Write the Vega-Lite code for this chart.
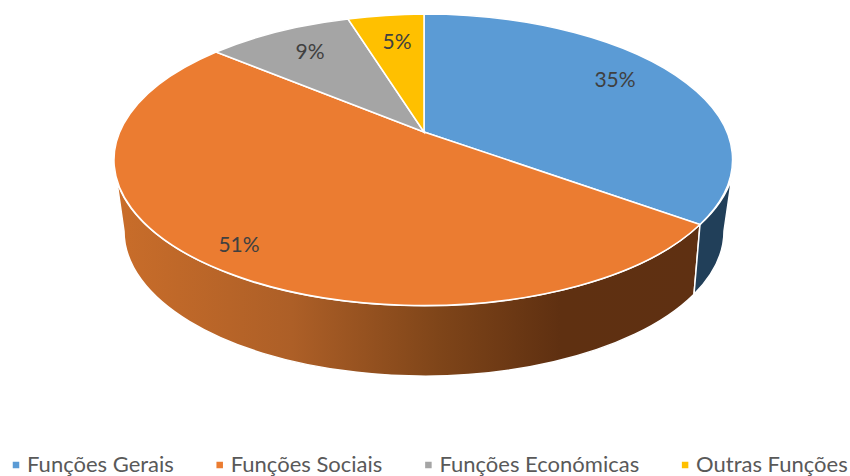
{"$schema":"https://vega.github.io/schema/vega-lite/v6.json","width":850,"height":476,"padding":0,"autosize":{"type":"none"},"background":"white","config":{"view":{"stroke":null}},
"data":{"values":[
{"categoria":"Funções Gerais","valor":0.35,"lx":191,"ly":51},
{"categoria":"Funções Sociais","valor":0.51,"lx":-185,"ly":-114},
{"categoria":"Funções Económicas","valor":0.09,"lx":-114,"ly":79},
{"categoria":"Outras Funções","valor":0.05,"lx":-27,"ly":89}
]},
"layer":[
{"encoding":{"x":{"datum":0,"type":"quantitative","scale":{"domain":[-424,426]},"axis":null},"y":{"datum":0,"type":"quantitative","scale":{"domain":[-344,132]},"axis":null}},
"layer":[
{"transform":[{"filter":"datum.categoria === 'Funções Sociais'"}],
"mark":{"type":"point","filled":true,"opacity":1,"size":4,"stroke":"white","strokeWidth":1.5,
"shape":"M-307.3,48 A309,145.5 0 0 0 276,92.5 L270,162.2 A300,145 0 0 1 -300,99 Z",
"fill":{"x1":0,"y1":0,"x2":1,"y2":0,"gradient":"linear","stops":[{"offset":0,"color":"#c96d2a"},{"offset":0.3,"color":"#ad5f27"},{"offset":0.55,"color":"#7f4519"},{"offset":0.76,"color":"#5f3011"},{"offset":1,"color":"#5f3012"}]}}},
{"transform":[{"filter":"datum.categoria === 'Funções Gerais'"}],
"mark":{"type":"point","filled":true,"opacity":1,"size":4,"stroke":"white","strokeWidth":1.5,"fill":"#213f59",
"shape":"M276,92.5 A309,145.5 0 0 0 307.7,46 L300,99 A300,145 0 0 1 270,162.2 Z"}},
{"transform":[{"filter":"datum.categoria === 'Funções Gerais'"}],
"mark":{"type":"point","filled":true,"opacity":1,"size":4,"stroke":"white","strokeWidth":1.5,"shape":"M0,0 L0,-118 A309,145.5 0 0 1 276,92.5 Z"},
"encoding":{"color":{"field":"categoria","type":"nominal","sort":null,"scale":{"domain":["Funções Gerais","Funções Sociais","Funções Económicas","Outras Funções"],"range":["#5B9BD5","#EB7C31","#A5A5A5","#FFC000"]},
"legend":{"title":null,"orient":"none","legendX":5,"legendY":454,"direction":"horizontal","columns":4,"columnPadding":34.7,"symbolType":"square","symbolSize":64,"symbolOpacity":1,"labelFont":"Lato","labelFontSize":22,"labelColor":"#595959","labelOffset":0,"labelLimit":300}}}},
{"transform":[{"filter":"datum.categoria === 'Funções Sociais'"}],
"mark":{"type":"point","filled":true,"opacity":1,"size":4,"stroke":"white","strokeWidth":1.5,"shape":"M0,0 L276,92.5 A309,145.5 0 1 1 -208,-80 Z"},
"encoding":{"color":{"field":"categoria","type":"nominal","sort":null}}},
{"transform":[{"filter":"datum.categoria === 'Funções Económicas'"}],
"mark":{"type":"point","filled":true,"opacity":1,"size":4,"stroke":"white","strokeWidth":1.5,"shape":"M0,0 L-208,-80 A309,145.5 0 0 1 -76,-113 Z"},
"encoding":{"color":{"field":"categoria","type":"nominal","sort":null}}},
{"transform":[{"filter":"datum.categoria === 'Outras Funções'"}],
"mark":{"type":"point","filled":true,"opacity":1,"size":4,"stroke":"white","strokeWidth":1.5,"shape":"M0,0 L-76,-113 A309,145.5 0 0 1 0,-118 Z"},
"encoding":{"color":{"field":"categoria","type":"nominal","sort":null}}}
]},
{"mark":{"type":"text","font":"Lato","fontSize":21,"color":"#404040","align":"center","baseline":"middle"},
"encoding":{"x":{"field":"lx","type":"quantitative","scale":{"domain":[-424,426]},"axis":null},"y":{"field":"ly","type":"quantitative","scale":{"domain":[-344,132]},"axis":null},"text":{"field":"valor","type":"quantitative","format":".0%"}}}
]}
